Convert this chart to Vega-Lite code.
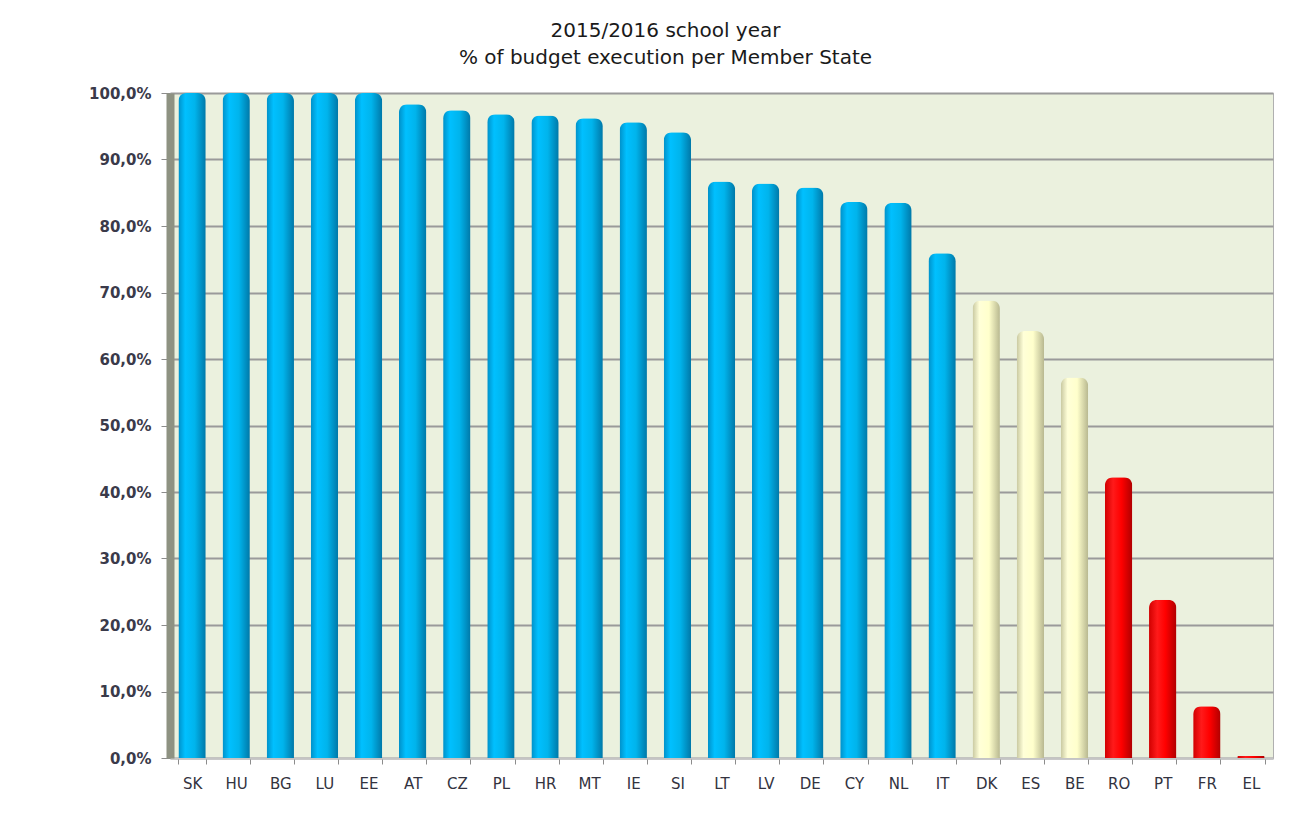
{
  "$schema": "https://vega.github.io/schema/vega-lite/v6.json",
  "autosize": {"type": "none"},
  "width": 1103,
  "height": 665,
  "padding": {"left": 170, "top": 93, "right": 25, "bottom": 71},
  "background": "#ffffff",
  "title": {
    "text": ["2015/2016 school year", "% of budget execution per Member State"],
    "font": "DejaVu Sans",
    "fontSize": 20,
    "fontWeight": "normal",
    "color": "#1a1a1a",
    "lineHeight": 27,
    "anchor": "middle",
    "dx": -56,
    "offset": 18
  },
  "data": {
    "values": [
      {"country": "SK", "pct": 100.0, "group": "high"},
      {"country": "HU", "pct": 100.0, "group": "high"},
      {"country": "BG", "pct": 100.0, "group": "high"},
      {"country": "LU", "pct": 100.0, "group": "high"},
      {"country": "EE", "pct": 100.0, "group": "high"},
      {"country": "AT", "pct": 98.3, "group": "high"},
      {"country": "CZ", "pct": 97.4, "group": "high"},
      {"country": "PL", "pct": 96.8, "group": "high"},
      {"country": "HR", "pct": 96.6, "group": "high"},
      {"country": "MT", "pct": 96.2, "group": "high"},
      {"country": "IE", "pct": 95.6, "group": "high"},
      {"country": "SI", "pct": 94.1, "group": "high"},
      {"country": "LT", "pct": 86.7, "group": "high"},
      {"country": "LV", "pct": 86.4, "group": "high"},
      {"country": "DE", "pct": 85.8, "group": "high"},
      {"country": "CY", "pct": 83.6, "group": "high"},
      {"country": "NL", "pct": 83.5, "group": "high"},
      {"country": "IT", "pct": 75.9, "group": "high"},
      {"country": "DK", "pct": 68.8, "group": "mid"},
      {"country": "ES", "pct": 64.2, "group": "mid"},
      {"country": "BE", "pct": 57.2, "group": "mid"},
      {"country": "RO", "pct": 42.2, "group": "low"},
      {"country": "PT", "pct": 23.8, "group": "low"},
      {"country": "FR", "pct": 7.8, "group": "low"},
      {"country": "EL", "pct": 0.3, "group": "low"}
    ]
  },
  "encoding": {
    "x": {
      "field": "country",
      "type": "nominal",
      "sort": null,
      "scale": {
        "domain": ["SK","HU","BG","LU","EE","AT","CZ","PL","HR","MT","IE","SI","LT","LV","DE","CY","NL","IT","DK","ES","BE","RO","PT","FR","EL"],
        "paddingInner": 0.38,
        "paddingOuter": 0.19
      },
      "axis": {
        "title": null,
        "labelAngle": 0,
        "labelFont": "DejaVu Sans",
        "labelFontSize": 15,
        "labelColor": "#333340",
        "labelPadding": 12,
        "domainColor": "#c4c4c4",
        "domainWidth": 2,
        "tickColor": "#8c8c8c",
        "tickSize": 6,
        "tickBand": "extent",
        "grid": false
      }
    },
    "y": {
      "field": "pct",
      "type": "quantitative",
      "scale": {"domain": [0, 100], "nice": false},
      "axis": {
        "title": null,
        "values": [0,10,20,30,40,50,60,70,80,90,100],
        "labelExpr": "replace(format(datum.value, '.1f'), '.', ',') + '%'",
        "labelFont": "DejaVu Sans",
        "labelFontSize": 15,
        "labelFontWeight": "bold",
        "labelColor": "#3a3a4a",
        "labelPadding": 10,
        "domainColor": "#8e9282",
        "domainWidth": 8,
        "tickColor": "#8c8c8c",
        "tickSize": 9,
        "gridColor": "#9a9a9a",
        "gridWidth": 2
      }
    }
  },
  "layer": [
    {
      "transform": [{"filter": "datum.group === 'high'"}],
      "mark": {
        "type": "bar",
        "cornerRadiusTopLeft": 8,
        "cornerRadiusTopRight": 8,
        "color": {
          "gradient": "linear", "x1": 0, "y1": 0, "x2": 1, "y2": 0,
          "stops": [
            {"offset": 0, "color": "#0090c8"},
            {"offset": 0.25, "color": "#00c0ff"},
            {"offset": 0.6, "color": "#00b4ec"},
            {"offset": 1, "color": "#0078a8"}
          ]
        }
      }
    },
    {
      "transform": [{"filter": "datum.group === 'mid'"}],
      "mark": {
        "type": "bar",
        "cornerRadiusTopLeft": 8,
        "cornerRadiusTopRight": 8,
        "color": {
          "gradient": "linear", "x1": 0, "y1": 0, "x2": 1, "y2": 0,
          "stops": [
            {"offset": 0, "color": "#c8c8a0"},
            {"offset": 0.25, "color": "#ffffd8"},
            {"offset": 0.6, "color": "#ffffcc"},
            {"offset": 1, "color": "#b8b890"}
          ]
        }
      }
    },
    {
      "transform": [{"filter": "datum.group === 'low'"}],
      "mark": {
        "type": "bar",
        "cornerRadiusTopLeft": 8,
        "cornerRadiusTopRight": 8,
        "color": {
          "gradient": "linear", "x1": 0, "y1": 0, "x2": 1, "y2": 0,
          "stops": [
            {"offset": 0, "color": "#d00000"},
            {"offset": 0.3, "color": "#ff1a1a"},
            {"offset": 0.6, "color": "#ff0000"},
            {"offset": 1, "color": "#b00000"}
          ]
        }
      }
    }
  ],
  "config": {
    "view": {"fill": "#ebf1de", "stroke": "#b0b0b0", "strokeWidth": 1}
  }
}
